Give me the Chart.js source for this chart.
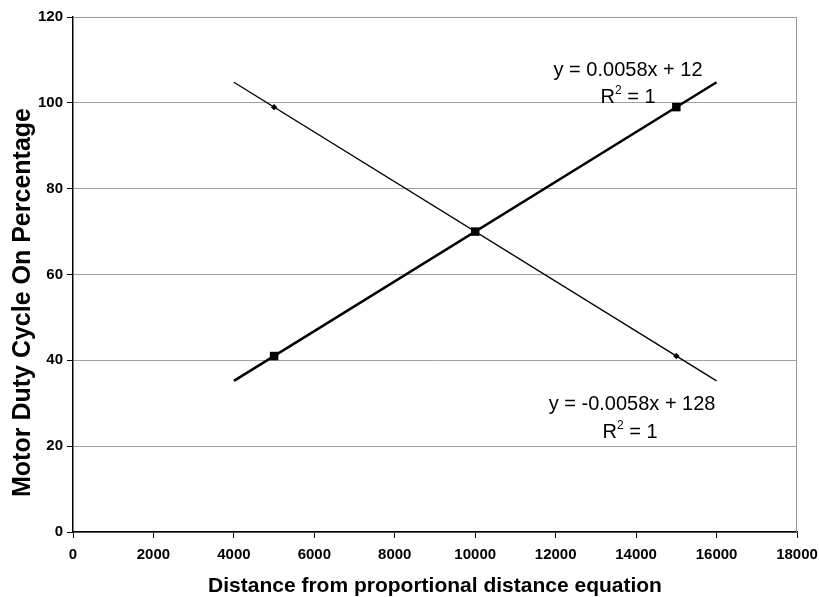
<!DOCTYPE html>
<html><head><meta charset="utf-8">
<script src="https://cdn.jsdelivr.net/npm/chart.js@4/dist/chart.umd.min.js"></script>
<style>html,body{margin:0;padding:0;background:#fff}#wrap{width:819px;height:597px}</style>
</head><body><div id="wrap"><canvas id="c" width="819" height="597"></canvas></div>
<script>
// ---- data ----
const xTickValues = [0, 2000, 4000, 6000, 8000, 10000, 12000, 14000, 16000, 18000];
const yTickValues = [0, 20, 40, 60, 80, 100, 120];
const distances = [5000, 10000, 15000];
const dutyIncreasing = [41, 70, 99];
const dutyDecreasing = [99, 70, 41];
const trendX = [4000, 16000];
const trendIncreasing = [35.2, 104.8];
const trendDecreasing = [104.8, 35.2];
const eqIncreasing = 'y = 0.0058x + 12';
const eqDecreasing = 'y = -0.0058x + 128';
const r2Increasing = '1';
const r2Decreasing = '1';
const xTitle = 'Distance from proportional distance equation';
const yTitle = 'Motor Duty Cycle On Percentage';

const pts = (xs, ys) => xs.map((x, i) => ({x, y: ys[i]}));
const FONT = '"Liberation Sans", Arial, sans-serif';

function drawR2(ctx, cx, cy, val) {
  const big = '20px ' + FONT, small = '12px ' + FONT;
  ctx.font = big; const wR = ctx.measureText('R').width;
  const rest = ' = ' + val; const wRest = ctx.measureText(rest).width;
  ctx.font = small; const w2 = ctx.measureText('2').width;
  let x = cx - (wR + w2 + wRest) / 2;
  ctx.textAlign = 'left'; ctx.textBaseline = 'middle';
  ctx.font = big; ctx.fillText('R', x, cy); x += wR;
  ctx.font = small; ctx.fillText('2', x, cy - 7); x += w2;
  ctx.font = big; ctx.fillText(rest, x, cy);
}

const annot = {
  id: 'annot',
  beforeDatasetsDraw(chart) {
    const {ctx, chartArea: a} = chart;
    ctx.save();
    ctx.strokeStyle = '#9a9a9a'; ctx.lineWidth = 1;
    ctx.beginPath();
    ctx.moveTo(a.left, a.top + 0.5);
    ctx.lineTo(a.right - 0.5, a.top + 0.5);
    ctx.lineTo(a.right - 0.5, a.bottom);
    ctx.stroke();
    ctx.restore();
  },
  afterDatasetsDraw(chart) {
    const {ctx, chartArea: a, scales: {x, y}} = chart;
    ctx.save();
    ctx.fillStyle = '#000';
    ctx.font = '20px ' + FONT; ctx.textAlign = 'center'; ctx.textBaseline = 'middle';
    ctx.fillText(eqIncreasing, x.getPixelForValue(13800), y.getPixelForValue(107.6));
    drawR2(ctx, x.getPixelForValue(13800), y.getPixelForValue(101.3), r2Increasing);
    ctx.font = '20px ' + FONT; ctx.textAlign = 'center'; ctx.textBaseline = 'middle';
    ctx.fillText(eqDecreasing, x.getPixelForValue(13900), y.getPixelForValue(29.6));
    drawR2(ctx, x.getPixelForValue(13850), y.getPixelForValue(23.1), r2Decreasing);
    // y axis title (placed slightly below the plot centre, as in the reference)
    ctx.translate(23, (a.top + a.bottom) / 2 + 28);
    ctx.rotate(-Math.PI / 2);
    ctx.font = 'bold 25px ' + FONT; ctx.textAlign = 'center'; ctx.textBaseline = 'middle';
    ctx.fillText(yTitle, 0, 0);
    ctx.restore();
  }
};

new Chart(document.getElementById('c'), {
  type: 'scatter',
  data: {
    datasets: [
      {data: pts(trendX, trendIncreasing), showLine: true, borderColor: '#000', borderWidth: 2.5, pointRadius: 0, fill: false},
      {data: pts(trendX, trendDecreasing), showLine: true, borderColor: '#000', borderWidth: 1.4, pointRadius: 0, fill: false},
      {data: pts(distances, dutyIncreasing), showLine: false, pointStyle: 'rect', pointRadius: 6, backgroundColor: '#000', borderColor: '#000', borderWidth: 0},
      {data: pts(distances, dutyDecreasing), showLine: false, pointStyle: 'rectRot', pointRadius: 3.2, backgroundColor: '#000', borderColor: '#000', borderWidth: 0}
    ]
  },
  options: {
    responsive: false, animation: false, devicePixelRatio: 1,
    layout: {padding: {top: 17, right: 22, left: 0, bottom: 0}},
    plugins: {legend: {display: false}, tooltip: {enabled: false}},
    scales: {
      x: {
        type: 'linear', min: 0, max: 18000,
        afterBuildTicks(s) { s.ticks = xTickValues.map(v => ({value: v})); },
        afterFit(s) { s.height = 65; s.paddingLeft = 0; s.paddingRight = 0; },
        ticks: {color: '#000', font: {family: FONT, size: 15, weight: 'bold'}, padding: 8, maxRotation: 0, callback: v => String(v)},
        grid: {drawOnChartArea: false, drawTicks: true, tickLength: 6, tickColor: '#000'},
        border: {color: '#000', width: 1.5},
        title: {display: true, text: xTitle, color: '#000', font: {family: FONT, size: 21, weight: 'bold', lineHeight: 1}, padding: {top: 0, bottom: 0}}
      },
      y: {
        type: 'linear', min: 0, max: 120,
        afterBuildTicks(s) { s.ticks = yTickValues.map(v => ({value: v})); },
        afterFit(s) { s.width = 73; s.paddingTop = 0; s.paddingBottom = 0; },
        ticks: {color: '#000', font: {family: FONT, size: 15, weight: 'bold'}, padding: 4, callback: v => String(v)},
        grid: {color: '#a0a0a0', lineWidth: 1, drawTicks: true, tickLength: 6, tickColor: '#000'},
        border: {color: '#000', width: 1.5},
        title: {display: false}
      }
    }
  },
  plugins: [annot]
});
</script>
</body></html>
